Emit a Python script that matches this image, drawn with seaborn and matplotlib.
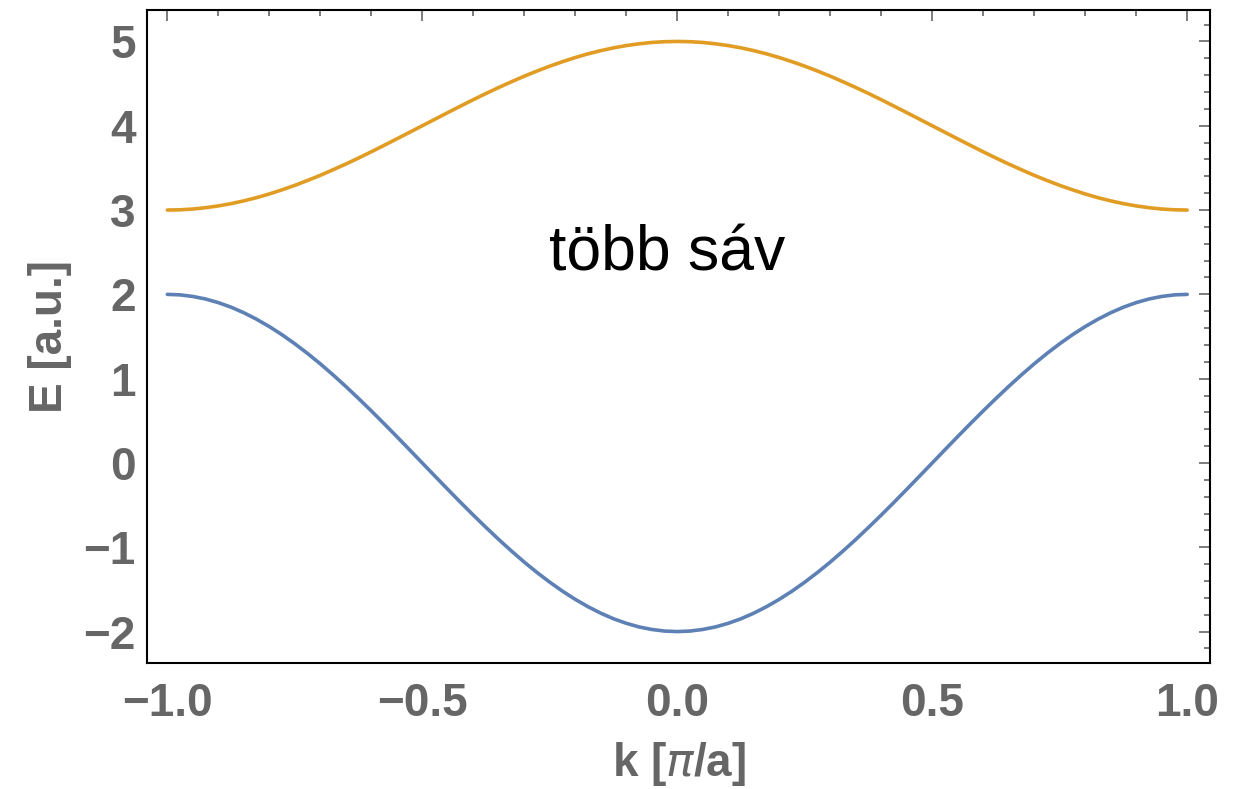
import numpy as np
import pandas as pd
import matplotlib.pyplot as plt
from matplotlib.ticker import MultipleLocator
import seaborn as sns

k_vals = np.linspace(-1.0, 1.0, 81)
lower_band = [2.000, 1.994, 1.975, 1.945, 1.902, 1.848, 1.782, 1.705, 1.618, 1.521,
              1.414, 1.299, 1.176, 1.045, 0.908, 0.765, 0.618, 0.467, 0.313, 0.157,
              0.000, -0.157, -0.313, -0.467, -0.618, -0.765, -0.908, -1.045, -1.176, -1.299,
              -1.414, -1.521, -1.618, -1.705, -1.782, -1.848, -1.902, -1.945, -1.975, -1.994,
              -2.000,
              -1.994, -1.975, -1.945, -1.902, -1.848, -1.782, -1.705, -1.618, -1.521, -1.414,
              -1.299, -1.176, -1.045, -0.908, -0.765, -0.618, -0.467, -0.313, -0.157, 0.000,
              0.157, 0.313, 0.467, 0.618, 0.765, 0.908, 1.045, 1.176, 1.299, 1.414,
              1.521, 1.618, 1.705, 1.782, 1.848, 1.902, 1.945, 1.975, 1.994, 2.000]
upper_band = [3.000, 3.003, 3.012, 3.028, 3.049, 3.076, 3.109, 3.147, 3.191, 3.240,
              3.293, 3.351, 3.412, 3.478, 3.546, 3.617, 3.691, 3.767, 3.844, 3.922,
              4.000, 4.078, 4.156, 4.233, 4.309, 4.383, 4.454, 4.522, 4.588, 4.649,
              4.707, 4.760, 4.809, 4.853, 4.891, 4.924, 4.951, 4.972, 4.988, 4.997,
              5.000,
              4.997, 4.988, 4.972, 4.951, 4.924, 4.891, 4.853, 4.809, 4.760, 4.707,
              4.649, 4.588, 4.522, 4.454, 4.383, 4.309, 4.233, 4.156, 4.078, 4.000,
              3.922, 3.844, 3.767, 3.691, 3.617, 3.546, 3.478, 3.412, 3.351, 3.293,
              3.240, 3.191, 3.147, 3.109, 3.076, 3.049, 3.028, 3.012, 3.003, 3.000]
band_names = ["lower", "upper"]
band_colors = ["#5E81B5", "#E19C24"]

df = pd.concat([
    pd.DataFrame({"k": k_vals, "E": lower_band, "band": "lower"}),
    pd.DataFrame({"k": k_vals, "E": upper_band, "band": "upper"}),
])

sns.set_theme(style="white")
plt.rcParams['font.family'] = ['Liberation Sans', 'DejaVu Sans']
plt.rcParams['mathtext.fontset'] = 'dejavusans'

fig = plt.figure(figsize=(12.45, 7.89), dpi=100)
ax = fig.add_axes([0.118, 0.16, 0.854, 0.827])

sns.lineplot(data=df, x="k", y="E", hue="band", hue_order=band_names,
             palette=band_colors, linewidth=2.6, legend=False, ax=ax, sort=False)

ax.set_xlim(-1.04, 1.045)
ax.set_ylim(-2.37, 5.37)

ax.xaxis.set_major_locator(MultipleLocator(0.5))
ax.xaxis.set_minor_locator(MultipleLocator(0.1))
ax.yaxis.set_major_locator(MultipleLocator(1))
ax.yaxis.set_minor_locator(MultipleLocator(0.2))
ax.xaxis.set_major_formatter(lambda v, p: f"{v:.1f}".replace("-", "\u2212"))
ax.yaxis.set_major_formatter(lambda v, p: f"{v:.0f}".replace("-", "\u2212"))

gray = "#666666"
ax.tick_params(which="both", direction="in", top=True, right=True,
               color=gray, width=1.2)
ax.tick_params(which="major", length=8)
ax.tick_params(which="minor", length=4)
ax.tick_params(axis="x", which="major", pad=14, labelsize=33, labelcolor=gray)
ax.tick_params(axis="y", which="major", pad=8, labelsize=33, labelcolor=gray)
for lbl in ax.get_xticklabels() + ax.get_yticklabels():
    lbl.set_fontweight("bold")

for sp in ax.spines.values():
    sp.set_color("black")
    sp.set_linewidth(1.5)

ax.set_xlabel(r"k [$\pi$/a]", fontsize=33, fontweight="bold", color=gray, labelpad=10)
ax.set_ylabel("E [a.u.]", fontsize=33, fontweight="bold", color=gray, labelpad=8)

ax.text(-0.02, 2.48, "több sáv", fontsize=45, color="black",
        ha="center", va="center")

fig.savefig("out.png", dpi=100)
